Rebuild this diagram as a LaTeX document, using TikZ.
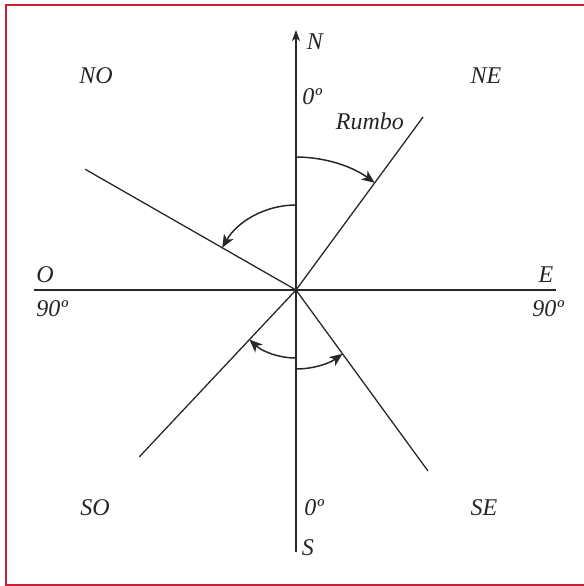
\documentclass[tikz,border=0pt]{standalone}
\usepackage{fontspec}
\setmainfont{Liberation Serif}
\usetikzlibrary{arrows.meta}
\definecolor{marco}{RGB}{200,32,52}
\definecolor{trazo}{RGB}{40,40,40}

\begin{document}
\begin{tikzpicture}[x=.5pt,y=.5pt,
    eje/.style={trazo, line width=.65pt},
    giro/.style={trazo, line width=.75pt, -{Stealth[length=6.5pt,width=5.4pt,inset=1.8pt]}},
    etiq/.style={font=\itshape\fontsize{12}{14}\selectfont, text=black!85, inner sep=0pt}]
  \useasboundingbox (-296,290) rectangle (288,-296);
  % marco
  \draw [marco, line width=1.1pt] (300,285) -- (-290,285) -- (-290,-295) -- (300,-295);
  % puntos
  \coordinate (c)  at (0,0);
  \coordinate (n)  at (0,260);
  \coordinate (s)  at (0,-262);
  \coordinate (o)  at (-262,0);
  \coordinate (e)  at (260,0);
  \coordinate (ne) at (53.7:214.6);
  \coordinate (no) at (150.2:243);
  \coordinate (so) at (226.8:229);
  \coordinate (se) at (306.1:224);
  % ejes
  \draw [eje, -{Stealth[length=5.5pt,width=4pt,inset=1.4pt]}] (s) -- (n);
  \draw [eje] (o) -- (e);
  \draw [eje] (c) -- (ne);
  \draw [eje] (c) -- (no);
  \draw [eje] (c) -- (so);
  \draw [eje] (c) -- (se);
  % rumbos
  \draw [giro] (90:133) arc [start angle=90, end angle=53.7, radius=133];
  \draw [giro] (90:85) arc [start angle=90, end angle=150.2, radius=85];
  \draw [giro] (270:68) arc [start angle=270, end angle=226.8, radius=68];
  \draw [giro] (270:79) arc [start angle=270, end angle=306.1, radius=79];
  % textos
  \node [etiq] (lN)   at (19,248)   {N};
  \node [etiq] (lNO)  at (-200,214) {NO};
  \node [etiq] (lNE)  at (190,214)  {NE};
  \node [etiq] (gN)   at (16,193)   {0º};
  \node [etiq] (lR)   at (74,169)   {Rumbo};
  \node [etiq] (lO)   at (-251,15)  {O};
  \node [etiq] (lE)   at (250,15)   {E};
  \node [etiq] (gO)   at (-244,-19) {90º};
  \node [etiq] (gE)   at (252,-19)  {90º};
  \node [etiq] (lSO)  at (-201,-218) {SO};
  \node [etiq] (gS)   at (18,-218)  {0º};
  \node [etiq] (lSE)  at (188,-218) {SE};
  \node [etiq] (lS)   at (12,-258)  {S};
\end{tikzpicture}
\end{document}
